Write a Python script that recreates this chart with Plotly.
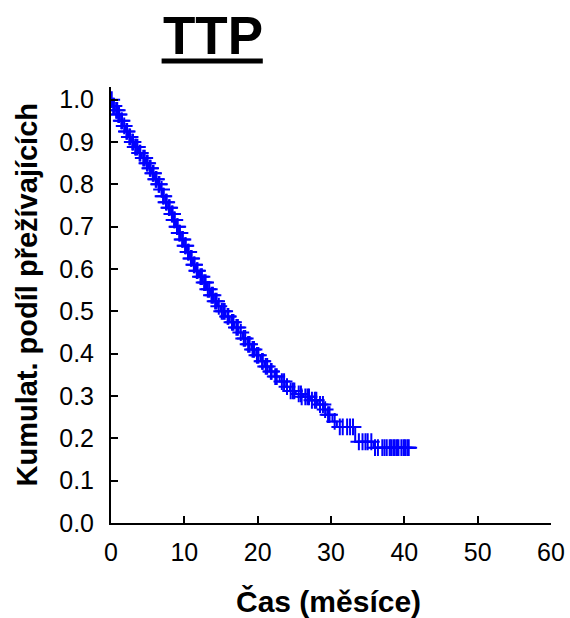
import plotly.graph_objects as go

# Kaplan-Meier step curve (time in months, cumulative proportion surviving)
km_time = [0, 0.2, 0.5, 0.9, 1.2, 1.6, 2.0, 2.4, 2.8, 3.2, 3.7, 4.2, 4.7, 5.1, 5.5, 5.9,
           6.3, 6.7, 7.0, 7.4, 7.8, 8.2, 8.5, 8.8, 9.2, 9.5, 9.9, 10.3, 10.7, 11.1, 11.5,
           12.0, 12.5, 13.0, 13.5, 14.0, 14.5, 15.0, 15.6, 16.2, 16.8, 17.4, 18.0, 18.6,
           19.2, 19.8, 20.4, 21.0, 21.6, 22.3, 23.0, 23.7, 24.4, 25.2, 26.2, 27.2, 28.2,
           29.0, 29.5, 30.2, 30.8, 33.3, 35.8, 41.6]
km_surv = [1.0, 0.985, 0.975, 0.965, 0.950, 0.938, 0.925, 0.912, 0.900, 0.888, 0.874, 0.862,
           0.850, 0.838, 0.826, 0.812, 0.800, 0.788, 0.772, 0.758, 0.745, 0.730, 0.716,
           0.700, 0.685, 0.670, 0.655, 0.640, 0.625, 0.610, 0.596, 0.582, 0.568, 0.552,
           0.538, 0.524, 0.512, 0.500, 0.488, 0.474, 0.462, 0.450, 0.436, 0.422, 0.410,
           0.396, 0.382, 0.370, 0.358, 0.346, 0.334, 0.322, 0.312, 0.305, 0.298, 0.290,
           0.280, 0.268, 0.256, 0.240, 0.227, 0.192, 0.178, 0.178]

# Censored observations (first group)
censor_time = [0.3, 0.7, 1.0, 1.4, 1.8, 2.2, 2.6, 3.0, 3.4, 3.9, 4.4, 4.9, 5.3, 5.7, 6.1,
               6.5, 6.9, 7.2, 7.6, 8.0, 8.4, 8.7, 9.0, 9.4, 9.7, 10.1, 10.5, 10.9, 11.3,
               11.8, 12.2, 12.7, 13.2, 13.7, 14.2, 14.7, 15.3, 15.9, 16.5, 17.1, 17.7,
               18.3, 18.9, 19.5, 20.1, 20.7, 21.3, 21.9, 22.6, 23.3, 24.0, 24.8, 25.0,
               25.6, 25.9, 26.5, 26.8, 27.4, 27.8, 28.5, 29.2, 29.8, 31.2, 31.6, 32.6,
               33.0, 33.8, 34.3, 35.0, 35.5, 36.4, 37.0, 37.6, 38.2, 38.7, 39.2, 39.6,
               40.1, 40.6]
censor_surv = [0.985, 0.975, 0.965, 0.950, 0.938, 0.925, 0.912, 0.900, 0.888, 0.874, 0.862,
               0.850, 0.838, 0.826, 0.812, 0.800, 0.788, 0.772, 0.758, 0.745, 0.730, 0.716,
               0.700, 0.685, 0.670, 0.655, 0.640, 0.625, 0.610, 0.596, 0.582, 0.568, 0.552,
               0.538, 0.524, 0.512, 0.500, 0.488, 0.474, 0.462, 0.450, 0.436, 0.422, 0.410,
               0.396, 0.382, 0.370, 0.358, 0.346, 0.334, 0.322, 0.312, 0.312, 0.305, 0.305,
               0.298, 0.298, 0.290, 0.290, 0.280, 0.268, 0.256, 0.227, 0.227, 0.227, 0.227,
               0.192, 0.192, 0.192, 0.192, 0.178, 0.178, 0.178, 0.178, 0.178, 0.178, 0.178,
               0.178, 0.178]

# Censored observations (second group)
censor_time2 = [0.1, 0.4, 0.85, 1.1, 1.5, 2.1, 2.5, 2.9, 3.3, 3.6, 4.0, 4.6, 5.0, 5.4, 5.8,
                6.2, 6.6, 7.1, 7.5, 7.9, 8.3, 8.6, 9.1, 9.3, 9.8, 10.2, 10.6, 11.0, 11.4,
                11.7, 12.4, 12.9, 13.4, 13.9, 14.4, 15.1, 15.5, 16.0, 16.7, 17.3, 18.1,
                18.7, 19.3, 19.9, 20.6, 21.1, 21.8, 22.4, 23.6, 24.5, 26.0, 27.0, 28.0,
                28.9, 29.6, 30.5, 32.2, 34.7, 36.0, 37.3, 38.0, 38.5, 39.0, 39.9, 40.4]
censor_surv2 = [1.0, 0.985, 0.975, 0.965, 0.950, 0.925, 0.912, 0.900, 0.888, 0.888, 0.874,
                0.862, 0.850, 0.838, 0.826, 0.812, 0.800, 0.772, 0.758, 0.745, 0.730, 0.716,
                0.700, 0.685, 0.670, 0.655, 0.640, 0.625, 0.610, 0.596, 0.582, 0.568, 0.552,
                0.538, 0.524, 0.500, 0.500, 0.488, 0.474, 0.462, 0.436, 0.422, 0.410, 0.396,
                0.382, 0.370, 0.358, 0.346, 0.334, 0.312, 0.298, 0.298, 0.290, 0.280, 0.256,
                0.240, 0.227, 0.192, 0.178, 0.178, 0.178, 0.178, 0.178, 0.178, 0.178]

x_ticks = [0, 10, 20, 30, 40, 50, 60]
y_ticks = [0.0, 0.1, 0.2, 0.3, 0.4, 0.5, 0.6, 0.7, 0.8, 0.9, 1.0]
y_tick_labels = ["0.0", "0.1", "0.2", "0.3", "0.4", "0.5", "0.6", "0.7", "0.8", "0.9", "1.0"]

title_text = "TTP"
x_title = "Čas (měsíce)"
y_title = "Kumulat. podíl přežívajících"

FONT = "Liberation Sans, Arial, sans-serif"
BLUE = "#0000FF"

fig = go.Figure()
fig.add_trace(go.Scatter(
    x=km_time, y=km_surv, mode="lines", line=dict(color=BLUE, width=2, shape="hv"),
    hoverinfo="skip", showlegend=False))
fig.add_trace(go.Scatter(
    x=censor_time + censor_time2, y=censor_surv + censor_surv2, mode="markers",
    marker=dict(symbol="cross-thin", size=12, line=dict(color=BLUE, width=2), color=BLUE),
    showlegend=False))

fig.update_layout(
    width=570, height=618, autosize=False,
    margin=dict(l=111, r=19, t=87, b=95, pad=0, autoexpand=False),
    paper_bgcolor="white", plot_bgcolor="white",
    font=dict(family=FONT, color="black", size=25),
    xaxis=dict(range=[0, 60], tickvals=x_ticks, ticks="inside", ticklen=7, tickwidth=2,
               tickcolor="black", showline=True, linecolor="black", linewidth=2,
               showgrid=False, zeroline=False, tickfont=dict(size=25, family=FONT),
               ticklabelstandoff=6, automargin=False),
    yaxis=dict(range=[0, 1.03], tickvals=y_ticks, ticktext=y_tick_labels, ticks="inside",
               ticklen=7, tickwidth=2, tickcolor="black", showline=True, linecolor="black",
               linewidth=2, showgrid=False, zeroline=False,
               tickfont=dict(size=25, family=FONT), ticklabelstandoff=10, automargin=False),
    annotations=[
        dict(text="<b>" + title_text + "</b>", xref="paper", yref="paper", x=0.2307, y=1.117,
             xanchor="center", yanchor="middle", showarrow=False,
             font=dict(size=53, family=FONT, color="black")),
        dict(text="<b>" + x_title + "</b>", xref="paper", yref="paper", x=0.494, y=-0.181,
             xanchor="center", yanchor="middle", showarrow=False,
             font=dict(size=30, family=FONT, color="black")),
        dict(text="<b>" + y_title + "</b>", xref="paper", yref="paper", x=-0.192, y=0.523,
             xanchor="center", yanchor="middle", textangle=-90, showarrow=False,
             font=dict(size=29, family=FONT, color="black")),
    ],
    shapes=[dict(type="line", xref="paper", yref="paper", x0=0.115, x1=0.345,
                 y0=1.0596, y1=1.0596, line=dict(color="black", width=5))],
)

fig.write_html("out.html", config={"displayModeBar": False},
               post_script="document.body.style.margin='0';")
